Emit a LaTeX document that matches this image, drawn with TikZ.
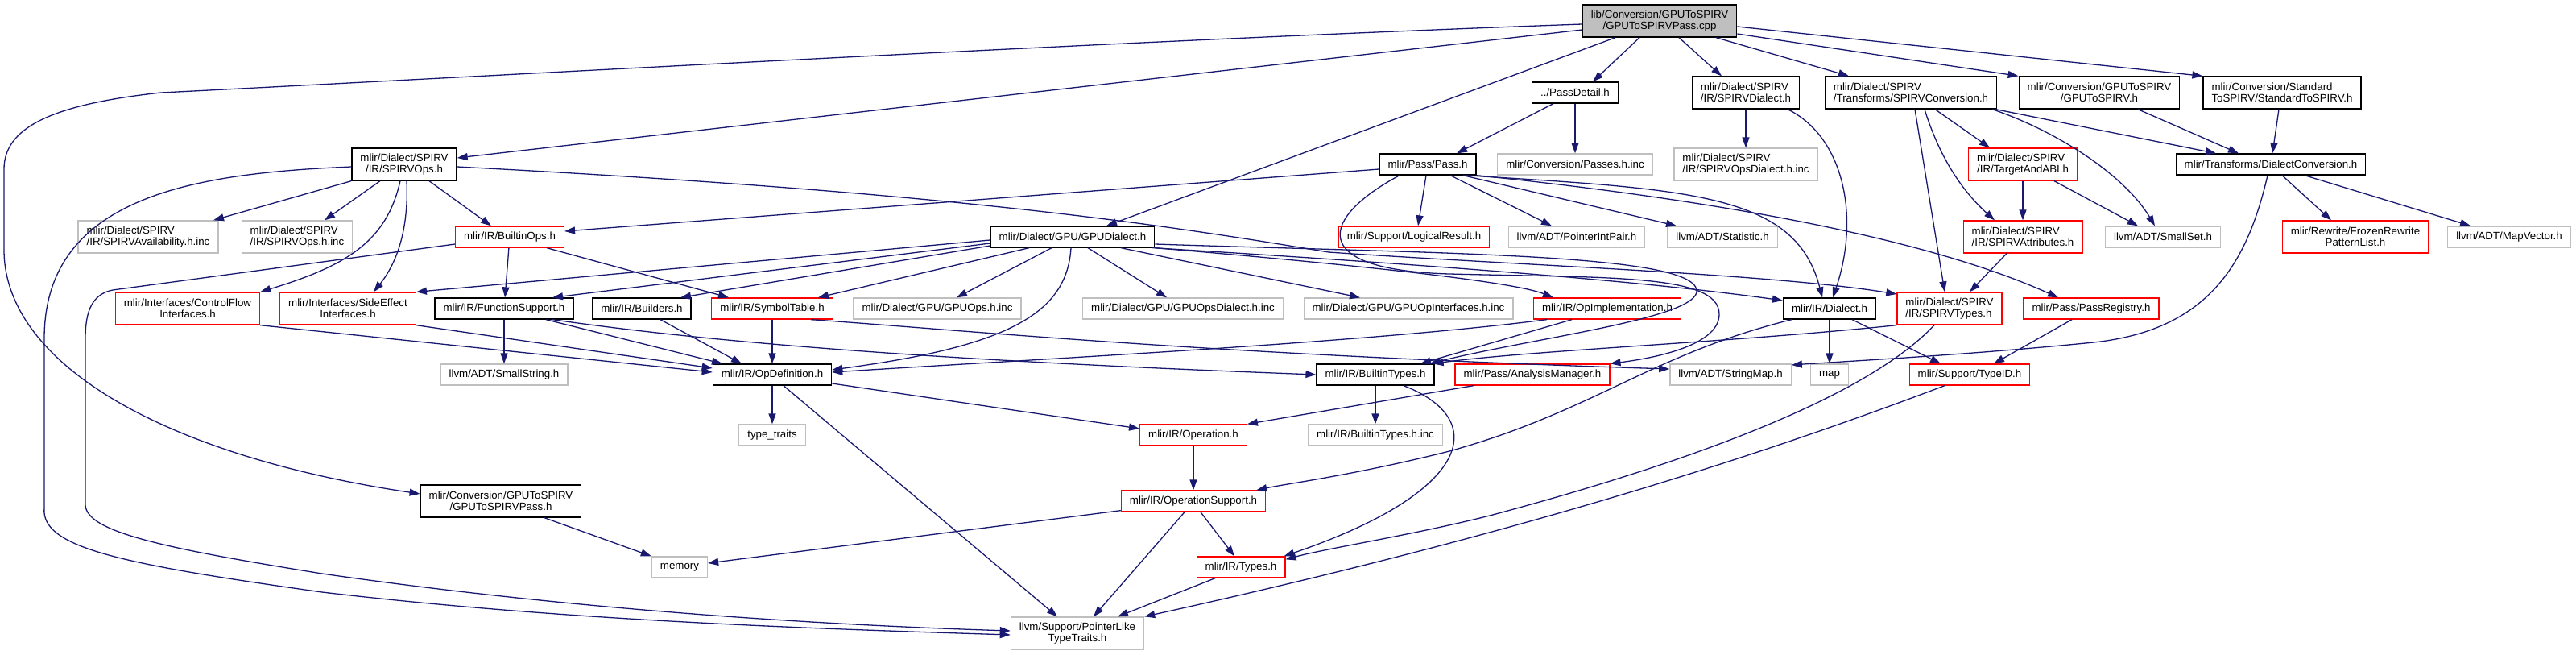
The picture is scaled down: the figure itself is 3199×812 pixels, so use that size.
\documentclass[tikz,border=0pt]{standalone}
\usepackage{fontspec}
\setmainfont{Liberation Sans}
\usetikzlibrary{arrows.meta}
\definecolor{edgeblue}{HTML}{191970}
\definecolor{extgray}{HTML}{BFBFBF}
\definecolor{truncred}{HTML}{FF0000}

\begin{document}
\begin{tikzpicture}[x=1pt,y=-1pt,
    every node/.style={draw,font=\fontsize{13.3}{14.3}\selectfont,inner xsep=10.5pt,inner ysep=2pt,minimum height=26pt,line width=1.3pt},
    docnode/.style={draw=black},
    truncnode/.style={draw=truncred},
    extnode/.style={draw=extgray},
    rootnode/.style={draw=black,fill=extgray},
    twoline/.style={minimum height=40pt,align=center},
    twoleft/.style={minimum height=40pt,align=left},
    dep/.style={draw=edgeblue,line width=1.3pt,-{Triangle[length=13pt,width=9pt]}}]
            \useasboundingbox (0,0) rectangle (3199,812);

            \node[rootnode,twoline] (root) at (2061,26) {lib/Conversion/GPUToSPIRV\\/GPUToSPIRVPass.cpp};

            \node[docnode] (passdetail) at (1956,115) {../PassDetail.h};
            \node[docnode,twoleft] (spirvdialect) at (2168,115) {mlir/Dialect/SPIRV\\/IR/SPIRVDialect.h};
            \node[docnode,twoleft] (spirvconv) at (2373,115) {mlir/Dialect/SPIRV\\/Transforms/SPIRVConversion.h};
            \node[docnode,twoline] (gputospirv) at (2607,115) {mlir/Conversion/GPUToSPIRV\\/GPUToSPIRV.h};
            \node[docnode,twoleft] (stdtospirv) at (2834,115) {mlir/Conversion/Standard\\ToSPIRV/StandardToSPIRV.h};

            \node[docnode,twoline] (spirvops) at (502,204) {mlir/Dialect/SPIRV\\/IR/SPIRVOps.h};
            \node[docnode] (pass) at (1773,204) {mlir/Pass/Pass.h};
            \node[extnode] (passesinc) at (1956,204) {mlir/Conversion/Passes.h.inc};
            \node[extnode,twoleft] (spirvopsdialectinc) at (2168,204) {mlir/Dialect/SPIRV\\/IR/SPIRVOpsDialect.h.inc};
            \node[truncnode,twoleft] (targetabi) at (2512,204) {mlir/Dialect/SPIRV\\/IR/TargetAndABI.h};
            \node[docnode] (dialectconv) at (2820,204) {mlir/Transforms/DialectConversion.h};

            \node[extnode,twoleft] (spirvavail) at (184,294) {mlir/Dialect/SPIRV\\/IR/SPIRVAvailability.h.inc};
            \node[extnode,twoleft] (spirvopsinc) at (369,294) {mlir/Dialect/SPIRV\\/IR/SPIRVOps.h.inc};
            \node[truncnode] (builtinops) at (633,294) {mlir/IR/BuiltinOps.h};
            \node[docnode] (gpudialect) at (1332,294) {mlir/Dialect/GPU/GPUDialect.h};
            \node[truncnode] (logicalresult) at (1756,294) {mlir/Support/LogicalResult.h};
            \node[extnode] (pointerintpair) at (1958,294) {llvm/ADT/PointerIntPair.h};
            \node[extnode] (statistic) at (2139,294) {llvm/ADT/Statistic.h};
            \node[truncnode,twoleft] (spirvattr) at (2512,294) {mlir/Dialect/SPIRV\\/IR/SPIRVAttributes.h};
            \node[extnode] (smallset) at (2686,294) {llvm/ADT/SmallSet.h};
            \node[truncnode,twoline] (frozen) at (2925,294) {mlir/Rewrite/FrozenRewrite\\PatternList.h};
            \node[extnode] (mapvector) at (3116,294) {llvm/ADT/MapVector.h};

            \node[truncnode,twoline] (controlflow) at (233,383) {mlir/Interfaces/ControlFlow\\Interfaces.h};
            \node[truncnode,twoline] (sideeffect) at (432,383) {mlir/Interfaces/SideEffect\\Interfaces.h};
            \node[docnode] (functionsupport) at (626,383) {mlir/IR/FunctionSupport.h};
            \node[docnode] (builders) at (797,383) {mlir/IR/Builders.h};
            \node[truncnode] (symboltable) at (959,383) {mlir/IR/SymbolTable.h};
            \node[extnode] (gpuopsinc) at (1164,383) {mlir/Dialect/GPU/GPUOps.h.inc};
            \node[extnode] (gpuopsdialectinc) at (1469,383) {mlir/Dialect/GPU/GPUOpsDialect.h.inc};
            \node[extnode] (gpuopinterfacesinc) at (1749,383) {mlir/Dialect/GPU/GPUOpInterfaces.h.inc};
            \node[truncnode] (opimpl) at (1996,383) {mlir/IR/OpImplementation.h};
            \node[docnode] (dialect) at (2272,383) {mlir/IR/Dialect.h};
            \node[truncnode,twoleft] (spirvtypes) at (2421,383) {mlir/Dialect/SPIRV\\/IR/SPIRVTypes.h};
            \node[truncnode] (passregistry) at (2597,383) {mlir/Pass/PassRegistry.h};

            \node[extnode] (smallstring) at (626,465) {llvm/ADT/SmallString.h};
            \node[docnode] (opdefinition) at (959,465) {mlir/IR/OpDefinition.h};
            \node[docnode] (builtintypes) at (1708,465) {mlir/IR/BuiltinTypes.h};
            \node[truncnode] (analysismanager) at (1903,465) {mlir/Pass/AnalysisManager.h};
            \node[extnode] (stringmap) at (2149,465) {llvm/ADT/StringMap.h};
            \node[extnode] (map) at (2272,465) {map};
            \node[truncnode] (typeid) at (2446,465) {mlir/Support/TypeID.h};

            \node[extnode] (typetraits) at (959,540) {type\_traits};
            \node[truncnode] (operation) at (1482,540) {mlir/IR/Operation.h};
            \node[extnode] (builtintypesinc) at (1708,540) {mlir/IR/BuiltinTypes.h.inc};

            \node[docnode,twoline] (gputospirvpass) at (622,622) {mlir/Conversion/GPUToSPIRV\\/GPUToSPIRVPass.h};
            \node[truncnode] (opsupport) at (1482,622) {mlir/IR/OperationSupport.h};

            \node[extnode] (memory) at (844,704) {memory};
            \node[truncnode] (types) at (1541,704) {mlir/IR/Types.h};

            \node[extnode,twoline] (pointerlike) at (1338,786) {llvm/Support/PointerLike\\TypeTraits.h};

            \draw[dep] ([yshift=-4pt]root.west) .. controls (1400,50) and (600,95) .. (200,115) .. controls (60,130) and (5,160) .. (5,210) -- (5,310) .. controls (5,450) and (200,565) .. ([yshift=9pt]gputospirvpass.west);
            \draw[dep] ([yshift=-11pt]root.west) -- ([yshift=8pt]spirvops.east);
            \draw[dep] ([xshift=-55pt]root.south) -- ([xshift=42pt]gpudialect.north);
            \draw[dep] ([xshift=-25pt]root.south) -- ([xshift=22pt]passdetail.north);
            \draw[dep] ([xshift=24pt]root.south) -- ([xshift=-30pt]spirvdialect.north);
            \draw[dep] ([xshift=70pt]root.south) -- ([xshift=-77pt]spirvconv.north);
            \draw[dep] ([yshift=-16pt]root.east) -- (gputospirv.north west);
            \draw[dep] ([yshift=-7pt]root.east) -- (stdtospirv.north west);

            \draw[dep] ([xshift=-27pt]passdetail.south) -- ([xshift=36pt]pass.north);
            \draw[dep] (passdetail) -- (passesinc);
            \draw[dep] (spirvdialect) -- (spirvopsdialectinc);
            \draw[dep] ([xshift=52pt]spirvdialect.south) .. controls (2290,170) and (2310,270) .. ([xshift=4pt]dialect.north);

            \draw[dep] ([yshift=-6pt]pass.west) -- ([yshift=7pt]builtinops.east);
            \draw[dep] ([xshift=-2pt]pass.south) -- ([xshift=5pt]logicalresult.north);
            \draw[dep] ([xshift=28pt]pass.south) -- ([xshift=-31pt]pointerintpair.north);
            \draw[dep] ([xshift=44pt]pass.south) -- ([xshift=-57pt]statistic.north);
            \draw[dep] ([xshift=46pt]pass.south) .. controls (2100,235) and (2230,240) .. ([xshift=-9pt]dialect.north);
            \draw[dep] (pass.south east) .. controls (2100,245) and (2380,290) .. ([xshift=-41pt]passregistry.north);
            \draw[dep] ([xshift=-35pt]pass.south) .. controls (1640,270) and (1620,335) .. (1800,340) .. controls (2000,345) and (2135,340) .. (2135,390) .. controls (2135,430) and (2050,445) .. (analysismanager.north east);

            \draw[dep] ([xshift=5pt]spirvconv.south) -- ([xshift=-6pt]spirvtypes.north);
            \draw[dep] ([xshift=17pt]spirvconv.south) .. controls (2410,200) and (2440,240) .. ([xshift=-35pt]spirvattr.north);
            \draw[dep] ([xshift=30pt]spirvconv.south) -- ([xshift=-41pt]targetabi.north);
            \draw[dep] ([xshift=-6pt]spirvconv.south east) .. controls (2560,165) and (2640,220) .. ([xshift=-10pt]smallset.north);
            \draw[dep] ([xshift=-2pt]spirvconv.south east) -- ([xshift=-68pt]dialectconv.north);
            \draw[dep] ([xshift=48pt]gputospirv.south) -- ([xshift=-40pt]dialectconv.north);
            \draw[dep] ([xshift=-4pt]stdtospirv.south) -- ([xshift=2pt]dialectconv.north);

            \draw[dep] ([xshift=14pt]dialectconv.south) -- ([xshift=-30pt]frozen.north);
            \draw[dep] ([xshift=42pt]dialectconv.south) -- ([xshift=-48pt]mapvector.north);
            \draw[dep] ([xshift=-4pt]dialectconv.south) .. controls (2790,330) and (2740,410) .. (2600,425) .. controls (2450,440) and (2300,448) .. ([yshift=12pt]stringmap.east);
            \draw[dep] (targetabi) -- (spirvattr);
            \draw[dep] ([xshift=39pt]targetabi.south) -- ([xshift=-31pt]smallset.north);
            \draw[dep] ([xshift=-20pt]spirvattr.south) -- ([xshift=25pt]spirvtypes.north);

            \draw[dep] (spirvops.south west) -- ([xshift=81pt]spirvavail.north);
            \draw[dep] ([xshift=-30pt]spirvops.south) -- ([xshift=34pt]spirvopsinc.north);
            \draw[dep] ([xshift=31pt]spirvops.south) -- ([xshift=-23pt]builtinops.north);
            \draw[dep] ([xshift=-5pt]spirvops.south) .. controls (480,300) and (430,330) .. (controlflow.north east);
            \draw[dep] ([xshift=3pt]spirvops.south) .. controls (508,290) and (490,330) .. ([xshift=32pt]sideeffect.north);
            \draw[dep] ([yshift=-3pt]spirvops.east) .. controls (1200,240) and (1450,280) .. (1650,313) .. controls (1900,330) and (2200,340) .. ([yshift=18pt]spirvtypes.west);
            \draw[dep] ([yshift=-3pt]spirvops.west) .. controls (250,215) and (55,240) .. (55,420) -- (55,630) .. controls (50,680) and (150,700) .. (400,735) .. controls (700,770) and (1000,780) .. ([yshift=-2pt]pointerlike.west);

            \draw[dep] ([yshift=-9pt]builtinops.west) -- (140,360) .. controls (115,365) and (106,385) .. (106,420) -- (106,627) .. controls (108,660) and (200,680) .. (400,712) .. controls (700,755) and (1000,775) .. ([yshift=3pt]pointerlike.west);
            \draw[dep] (builtinops) -- (functionsupport);
            \draw[dep] ([xshift=46pt]builtinops.south) -- ([xshift=-54pt]symboltable.north);

            \draw[dep] ([yshift=-4pt]gpudialect.west) -- (sideeffect.north east);
            \draw[dep] ([yshift=-8pt]gpudialect.west) -- ([xshift=60pt]functionsupport.north);
            \draw[dep] ([yshift=-11pt]gpudialect.west) -- ([xshift=48pt]builders.north);
            \draw[dep] ([xshift=-54pt]gpudialect.south) -- ([xshift=57pt]symboltable.north);
            \draw[dep] ([xshift=-26pt]gpudialect.south) -- ([xshift=24pt]gpuopsinc.north);
            \draw[dep] ([xshift=-2pt]gpudialect.south) .. controls (1325,390) and (1250,430) .. ([yshift=6pt]opdefinition.east);
            \draw[dep] ([xshift=19pt]gpudialect.south) -- ([xshift=-20pt]gpuopsdialectinc.north);
            \draw[dep] ([xshift=60pt]gpudialect.south) -- ([xshift=-60pt]gpuopinterfacesinc.north);
            \draw[dep] (gpudialect.south east) .. controls (1700,330) and (1880,350) .. ([xshift=-67pt]opimpl.north);
            \draw[dep] ([xshift=-3pt]gpudialect.south east) .. controls (1800,330) and (2050,350) .. ([yshift=10pt]dialect.west);
            \draw[dep] ([yshift=-9pt]gpudialect.east) .. controls (1800,315) and (2100,315) .. (2107,360) .. controls (2112,395) and (1900,420) .. ([xshift=-6pt]builtintypes.north east);

            \draw[dep] (controlflow.south east) -- ([yshift=3pt]opdefinition.west);
            \draw[dep] (sideeffect.south east) -- ([yshift=8pt]opdefinition.west);
            \draw[dep] (functionsupport) -- (smallstring);
            \draw[dep] ([xshift=52pt]functionsupport.south) -- ([xshift=-62pt]opdefinition.north);
            \draw[dep] ([xshift=60pt]functionsupport.south) .. controls (850,420) and (1100,445) .. (builtintypes.west);
            \draw[dep] ([xshift=23pt]builders.south) -- ([xshift=-38pt]opdefinition.north);
            \draw[dep] (symboltable) -- (opdefinition);
            \draw[dep] ([xshift=48pt]symboltable.south) .. controls (1200,410) and (1500,440) .. ([yshift=7pt]stringmap.west);
            \draw[dep] ([xshift=-75pt]opimpl.south) .. controls (1700,425) and (1300,445) .. ([yshift=3pt]opdefinition.east);
            \draw[dep] ([xshift=-44pt]opimpl.south) -- ([xshift=56pt]builtintypes.north);

            \draw[dep] ([xshift=-47pt]dialect.south) .. controls (2050,440) and (1980,510) .. (1800,560) .. controls (1680,590) and (1600,600) .. ([xshift=-12pt]opsupport.north east);
            \draw[dep] (dialect) -- (map);
            \draw[dep] ([xshift=28pt]dialect.south) -- ([xshift=-36pt]typeid.north);
            \draw[dep] (spirvtypes.south west) .. controls (2150,425) and (1900,435) .. ([xshift=-2pt]builtintypes.north east);
            \draw[dep] ([xshift=-19pt]spirvtypes.south) .. controls (2330,480) and (2150,560) .. (1850,640) .. controls (1750,665) and (1650,680) .. ([yshift=-4pt]types.north east);
            \draw[dep] ([xshift=-24pt]passregistry.south) -- ([xshift=30pt]typeid.north);

            \draw[dep] (opdefinition) -- (typetraits);
            \draw[dep] ([yshift=-11pt]opdefinition.east) -- ([yshift=8pt]operation.west);
            \draw[dep] ([xshift=14pt]opdefinition.south) -- ([xshift=-25pt]pointerlike.north);
            \draw[dep] (builtintypes) -- (builtintypesinc);
            \draw[dep] ([xshift=35pt]builtintypes.south) .. controls (1850,520) and (1830,610) .. ([xshift=-2pt]types.north east);
            \draw[dep] ([xshift=-73pt]analysismanager.south) -- (operation.north east);
            \draw[dep] ([xshift=-31pt]typeid.south) .. controls (2200,560) and (1900,660) .. (pointerlike.north east);
            \draw[dep] (operation) -- (opsupport);
            \draw[dep] ([yshift=2pt]opsupport.south west) -- ([yshift=5pt]memory.east);
            \draw[dep] ([xshift=-11pt]opsupport.south) -- ([xshift=20pt]pointerlike.north);
            \draw[dep] ([xshift=9pt]opsupport.south) -- ([xshift=-8pt]types.north);
            \draw[dep] ([xshift=-32pt]types.south) -- ([xshift=50pt]pointerlike.north);
            \draw[dep] ([xshift=54pt]gputospirvpass.south) -- (memory.north west);
        \end{tikzpicture}
\end{document}
